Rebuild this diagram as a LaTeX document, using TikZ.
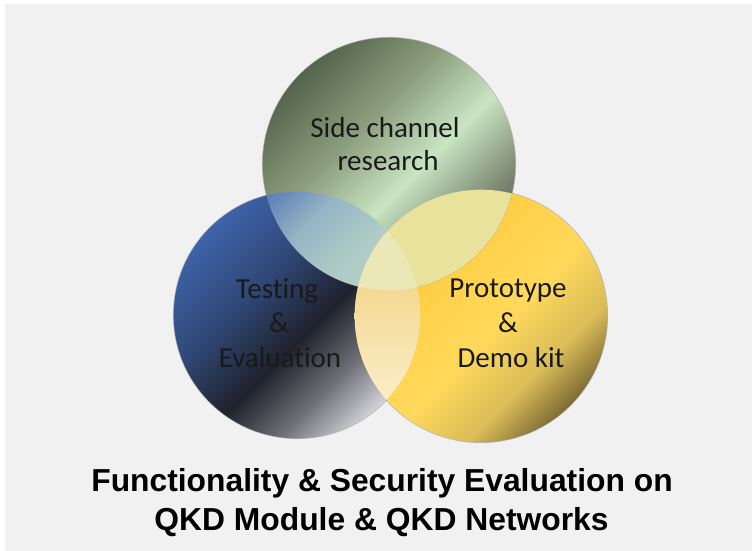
\documentclass[tikz,border=0pt]{standalone}
\usepackage{fontspec}
\setmainfont{Carlito}[Ligatures=NoCommon]
\newfontfamily\titlefont{Liberation Sans}

% palette
\definecolor{pageGray}{HTML}{F1F1F1}
\definecolor{gA}{HTML}{55644C}
\definecolor{gB}{HTML}{8C9E7E}
\definecolor{gC}{HTML}{C9E5C1}
\definecolor{gD}{HTML}{7E8B75}
\definecolor{gE}{HTML}{5A6553}
\definecolor{bA}{HTML}{3E63A8}
\definecolor{bB}{HTML}{304878}
\definecolor{bC}{HTML}{1F222B}
\definecolor{bD}{HTML}{6E6E76}
\definecolor{bE}{HTML}{D2D2D8}
\definecolor{yA}{HTML}{F6BE30}
\definecolor{yB}{HTML}{FFD24C}
\definecolor{yC}{HTML}{FFD95C}
\definecolor{yD}{HTML}{D9BC58}
\definecolor{yE}{HTML}{7E6C36}
\definecolor{gbA}{HTML}{5F82BA}
\definecolor{gbB}{HTML}{95B4C4}
\definecolor{gbC}{HTML}{B0CCC6}
\definecolor{gyFill}{HTML}{E9E29C}
\definecolor{byTop}{HTML}{F2D486}
\definecolor{byBot}{HTML}{FCF0D0}
\definecolor{triFill}{HTML}{ECE7B6}

\pgfdeclarehorizontalshading{greenball}{100bp}{color(0bp)=(gA); color(25bp)=(gA); color(41bp)=(gB); color(55bp)=(gC); color(68bp)=(gD); color(75bp)=(gE); color(100bp)=(gE)}
\pgfdeclarehorizontalshading{blueball}{100bp}{color(0bp)=(bA); color(25bp)=(bA); color(40bp)=(bB); color(54bp)=(bC); color(65bp)=(bD); color(75bp)=(bE); color(100bp)=(bE)}
\pgfdeclarehorizontalshading{yellowball}{100bp}{color(0bp)=(yA); color(25bp)=(yA); color(42bp)=(yB); color(54bp)=(yC); color(66bp)=(yD); color(75bp)=(yE); color(100bp)=(yE)}
\pgfdeclarehorizontalshading{gblens}{100bp}{color(0bp)=(gbA); color(38bp)=(gbA); color(47bp)=(gbB); color(58bp)=(gbC); color(100bp)=(gbC)}

\tikzset{
  rim/.style={fill=black, opacity=0.25},
  circlelabel/.style={anchor=base, inner sep=0pt, font=\fontsize{29}{34}\selectfont, text=black!90},
  titleline/.style={anchor=base, inner sep=0pt, font=\titlefont\bfseries\fontsize{31.8}{39}\selectfont}
}

\begin{document}
\begin{tikzpicture}[x=1pt, y=-1pt]
  % page
  \fill[white] (0,0) rectangle (752,551);
  \fill[pageGray] (5,4) rectangle (752,551);
  \useasboundingbox (0,0) rectangle (752,551);

  % centres of the three sets
  \coordinate (cG) at (389,164);
  \coordinate (cB) at (297,315);
  \coordinate (cY) at (481,316);

  % soft rims
  \fill[rim] (cB) circle (124pt);
  \fill[rim] (cY) circle (127pt);
  \fill[rim] (cG) circle (127pt);

  % the three sets
  \shade[shading=blueball, shading angle=-45] (cB) circle (123.3pt);
  \shade[shading=yellowball, shading angle=-45] (cY) circle (126.3pt);
  \shade[shading=greenball, shading angle=-45] (cG) circle (126.3pt);

  % green and blue overlap
  \begin{scope}
    \clip (cB) circle (123.3pt);
    \shade[shading=gblens, shading angle=-45] (cG) circle (126.3pt);
  \end{scope}
  % green and yellow overlap
  \begin{scope}
    \clip (cG) circle (126.3pt);
    \fill[gyFill] (cY) circle (126.3pt);
  \end{scope}
  % blue and yellow overlap
  \begin{scope}
    \clip (cB) circle (123.3pt);
    \clip (cY) circle (126.3pt);
    \shade[top color=byTop, bottom color=byBot] (350,262) rectangle (424,416);
  \end{scope}
  % all three
  \begin{scope}
    \clip (cB) circle (123.3pt);
    \clip (cY) circle (126.3pt);
    \fill[triFill] (cG) circle (126.3pt);
  \end{scope}

  % labels
  \node[circlelabel] (side1) at (385,137) {Side channel};
  \node[circlelabel] (side2) at (388,170) {research};
  \node[circlelabel] (test1) at (277,298) {Testing};
  \node[circlelabel] (test2) at (279,332) {\&};
  \node[circlelabel] (test3) at (280,367) {Evaluation};
  \node[circlelabel] (proto1) at (508,297) {Prototype};
  \node[circlelabel] (proto2) at (508,332) {\&};
  \node[circlelabel] (proto3) at (511,367) {Demo kit};

  % caption
  \node[titleline] (title1) at (382,491) {Functionality \& Security Evaluation on};
  \node[titleline] (title2) at (381.5,530) {QKD Module \& QKD Networks};
\end{tikzpicture}
\end{document}
